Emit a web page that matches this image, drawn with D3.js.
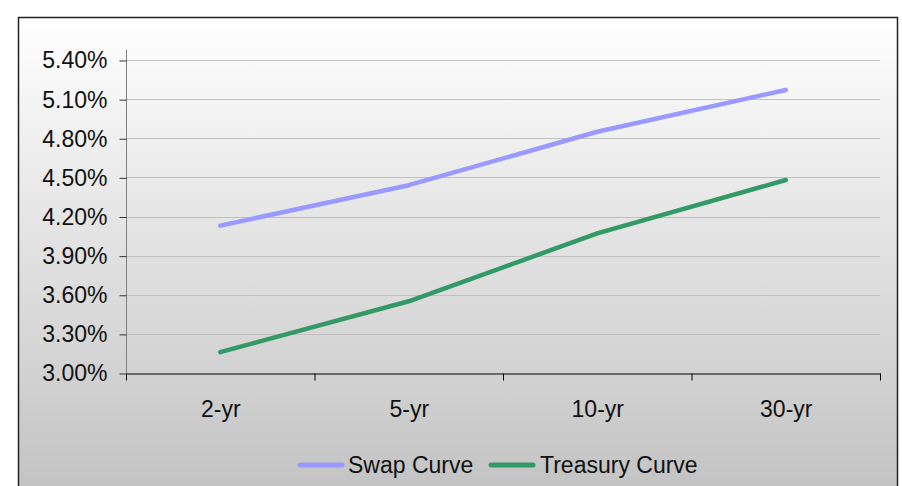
<!DOCTYPE html>
<html>
<head>
<title>Swap vs Treasury Curve</title>
<meta charset="utf-8">
<style type="text/css">
body { margin: 0; background: #fff; }
svg { display: block; font-family: "Liberation Sans", Arial, sans-serif; }
</style>
</head>
<body>
<svg id="chart"></svg>

<script src="https://d3js.org/d3.v7.min.js"></script>
<script type="text/javascript">
const WIDTH = 902;
const HEIGHT = 486;

// data
const tenors = ["2-yr", "5-yr", "10-yr", "30-yr"];
const swapCurve = [4.13, 4.44, 4.85, 5.17];
const treasuryCurve = [3.16, 3.55, 4.07, 4.48];
const yTicks = [3.0, 3.3, 3.6, 3.9, 4.2, 4.5, 4.8, 5.1, 5.4];
const seriesNames = ["Swap Curve", "Treasury Curve"];
const seriesColors = ["#9999FF", "#339966"];

const PLOT = {left: 126, right: 880, top: 60, bottom: 373};
const FONT_SIZE = 23;

const svg = d3.select("#chart")
    .attr("width", WIDTH)
    .attr("height", HEIGHT);

// background gradient
const grad = svg.append("defs").append("linearGradient")
    .attr("id", "bg").attr("x1", 0).attr("y1", 0).attr("x2", 0).attr("y2", 1);
grad.append("stop").attr("offset", "0%").attr("stop-color", "#ffffff");
grad.append("stop").attr("offset", "100%").attr("stop-color", "#c2c2c2");

svg.append("rect")
    .attr("x", 18.5).attr("y", 17.5)
    .attr("width", 879).attr("height", 480)
    .attr("fill", "url(#bg)")
    .attr("stroke", "#222").attr("stroke-width", 1.5);

// scales
const x = d3.scaleBand()
    .domain(tenors)
    .range([PLOT.left, PLOT.right]);

const y = d3.scaleLinear()
    .domain([3.0, 5.4])
    .range([PLOT.bottom, PLOT.top]);

// gridlines
svg.append("g")
    .selectAll("line")
    .data(yTicks.slice(1))
    .join("line")
    .attr("x1", PLOT.left).attr("x2", PLOT.right)
    .attr("y1", d => Math.round(y(d)) + 0.5)
    .attr("y2", d => Math.round(y(d)) + 0.5)
    .attr("stroke", "#c0c0c0")
    .attr("stroke-width", 1);

// y axis
const yAxis = svg.append("g")
    .attr("transform", `translate(${PLOT.left + 0.5},0.5)`)
    .call(d3.axisLeft(y).tickValues(yTicks).tickFormat(d => d.toFixed(2) + "%")
        .tickSize(7).tickPadding(12).tickSizeOuter(0));
yAxis.select(".domain").attr("stroke", "#808080").attr("d", `M0,49V${PLOT.bottom}`);
yAxis.selectAll(".tick line").attr("stroke", "#333");
yAxis.selectAll(".tick text")
    .attr("font-size", FONT_SIZE).attr("fill", "#111")
    .attr("font-family", "Liberation Sans, Arial, sans-serif");

// x axis
const xAxis = svg.append("g")
    .attr("transform", `translate(0.5,${PLOT.bottom + 0.5})`)
    .call(d3.axisBottom(x).tickSize(0).tickPadding(27));
xAxis.select(".domain").attr("stroke", "#000");
xAxis.selectAll(".tick text")
    .attr("font-size", FONT_SIZE).attr("fill", "#111")
    .attr("font-family", "Liberation Sans, Arial, sans-serif");
// tick marks between categories
xAxis.append("g")
    .selectAll("line")
    .data(tenors.concat(["end"]))
    .join("line")
    .attr("x1", (d, i) => i < tenors.length ? x(d) : PLOT.right)
    .attr("x2", (d, i) => i < tenors.length ? x(d) : PLOT.right)
    .attr("y1", 0).attr("y2", 7)
    .attr("stroke", "#000");

// lines
const line = d3.line()
    .x((d, i) => x(tenors[i]) + x.bandwidth() / 2)
    .y(d => y(d));

[swapCurve, treasuryCurve].forEach((values, i) => {
    svg.append("path").datum(values)
        .attr("fill", "none")
        .attr("stroke", seriesColors[i])
        .attr("stroke-width", 4.5)
        .attr("stroke-linejoin", "round")
        .attr("stroke-linecap", "round")
        .attr("d", line);
});

// legend
const legendItems = [
    {name: seriesNames[0], color: seriesColors[0], x: 300, tx: 348},
    {name: seriesNames[1], color: seriesColors[1], x: 491, tx: 540}
];
const legend = svg.append("g");
legendItems.forEach(item => {
    legend.append("line")
        .attr("x1", item.x).attr("x2", item.x + 42)
        .attr("y1", 465).attr("y2", 465)
        .attr("stroke", item.color)
        .attr("stroke-width", 5)
        .attr("stroke-linecap", "round");
    legend.append("text")
        .attr("x", item.tx).attr("y", 473)
        .attr("font-size", FONT_SIZE)
        .attr("fill", "#111")
        .text(item.name);
});
</script>
</body>
</html>
